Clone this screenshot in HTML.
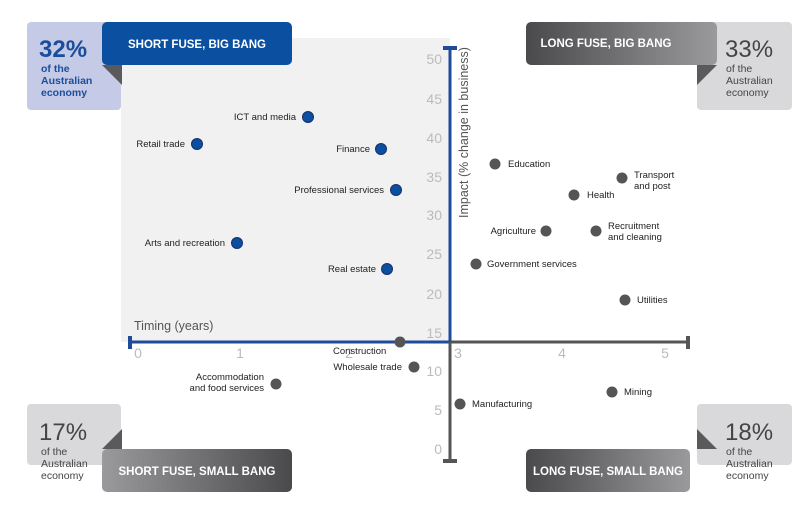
<!DOCTYPE html>
<html><head><style>
body{margin:0;background:#fff;}
svg{display:block;font-family:"Liberation Sans",Arial,sans-serif;}
</style></head><body>
<svg width="800" height="508" viewBox="0 0 800 508">
<defs>
<linearGradient id="gd" x1="0" x2="1"><stop offset="0" stop-color="#4a4a4c"/><stop offset="1" stop-color="#9a9a9c"/></linearGradient>
<linearGradient id="gd2" x1="0" x2="1"><stop offset="0" stop-color="#9a9a9c"/><stop offset="1" stop-color="#4a4a4c"/></linearGradient>
</defs>
<rect x="121" y="38" width="329" height="304" fill="#f1f1f1"/>
<rect x="27" y="22" width="94" height="88" rx="4" fill="#c5cae6"/>
<polygon points="102,65 122,65 122,85" fill="#5a5a5c"/>
<rect x="102" y="22" width="190" height="43" rx="5" fill="#0a4fa0"/>
<text x="197" y="48" font-size="11.5" font-weight="bold" fill="#fff" text-anchor="middle">SHORT FUSE, BIG BANG</text>
<text x="39" y="57" font-size="24" font-weight="bold" fill="#1a4e9c">32%</text>
<text x="41" y="72" font-size="10.5" font-weight="bold" fill="#1a4e9c">of the</text>
<text x="41" y="84" font-size="10.5" font-weight="bold" fill="#1a4e9c">Australian</text>
<text x="41" y="96" font-size="10.5" font-weight="bold" fill="#1a4e9c">economy</text>
<rect x="697" y="22" width="95" height="88" rx="4" fill="#d9d9db"/>
<polygon points="697,65 717,65 697,85" fill="#5a5a5c"/>
<rect x="526" y="22" width="191" height="43" rx="5" fill="url(#gd)"/>
<text x="606" y="47" font-size="11.5" font-weight="bold" fill="#fff" text-anchor="middle">LONG FUSE, BIG BANG</text>
<text x="725" y="57" font-size="24" fill="#444">33%</text>
<text x="726" y="72" font-size="10.5" fill="#444">of the</text>
<text x="726" y="84" font-size="10.5" fill="#444">Australian</text>
<text x="726" y="96" font-size="10.5" fill="#444">economy</text>
<rect x="27" y="404" width="94" height="61" rx="4" fill="#d9d9db"/>
<polygon points="102,449 122,429 122,449" fill="#5a5a5c"/>
<rect x="102" y="449" width="190" height="43" rx="5" fill="url(#gd2)"/>
<text x="197" y="475" font-size="11.5" font-weight="bold" fill="#fff" text-anchor="middle">SHORT FUSE, SMALL BANG</text>
<text x="39" y="440" font-size="24" fill="#444">17%</text>
<text x="41" y="455" font-size="10.5" fill="#444">of the</text>
<text x="41" y="467" font-size="10.5" fill="#444">Australian</text>
<text x="41" y="479" font-size="10.5" fill="#444">economy</text>
<rect x="697" y="404" width="95" height="61" rx="4" fill="#d9d9db"/>
<polygon points="697,429 717,449 697,449" fill="#5a5a5c"/>
<rect x="526" y="449" width="164" height="43" rx="5" fill="url(#gd)"/>
<text x="608" y="475" font-size="11.5" font-weight="bold" fill="#fff" text-anchor="middle">LONG FUSE, SMALL BANG</text>
<text x="725" y="440" font-size="24" fill="#444">18%</text>
<text x="726" y="455" font-size="10.5" fill="#444">of the</text>
<text x="726" y="467" font-size="10.5" fill="#444">Australian</text>
<text x="726" y="479" font-size="10.5" fill="#444">economy</text>
<line x1="130" y1="342" x2="450" y2="342" stroke="#1f4c9a" stroke-width="3"/>
<line x1="450" y1="342" x2="688" y2="342" stroke="#555" stroke-width="3"/>
<rect x="128" y="336" width="4" height="13" fill="#1f4c9a"/>
<rect x="686" y="336" width="4" height="13" fill="#555"/>
<line x1="450" y1="48" x2="450" y2="342" stroke="#1f4c9a" stroke-width="3"/>
<line x1="450" y1="342" x2="450" y2="461" stroke="#555" stroke-width="3"/>
<rect x="443" y="46" width="14" height="4" fill="#1f4c9a"/>
<rect x="443" y="459" width="14" height="4" fill="#555"/>
<g font-size="14" fill="#bbb" text-anchor="middle">
<text x="138" y="358">0</text><text x="240" y="358">1</text><text x="349" y="358">2</text><text x="458" y="358">3</text><text x="562" y="358">4</text><text x="665" y="358">5</text>
</g>
<g font-size="14" fill="#bbb" text-anchor="end">
<text x="442" y="64">50</text><text x="442" y="104">45</text><text x="442" y="143">40</text><text x="442" y="182">35</text><text x="442" y="220">30</text><text x="442" y="259">25</text><text x="442" y="299">20</text><text x="442" y="338">15</text><text x="442" y="376">10</text><text x="442" y="415">5</text><text x="442" y="454">0</text>
</g>
<text x="134" y="330" font-size="12.5" fill="#555">Timing (years)</text>
<text transform="translate(468,218) rotate(-90)" font-size="12.5" fill="#555">Impact (% change in business)</text>
<g fill="#0a4fa0" stroke="#1a2f6a" stroke-width="1">
<circle cx="308" cy="117" r="5.5"/><circle cx="197" cy="144" r="5.5"/><circle cx="381" cy="149" r="5.5"/><circle cx="396" cy="190" r="5.5"/><circle cx="237" cy="243" r="5.5"/><circle cx="387" cy="269" r="5.5"/>
</g>
<g fill="#555">
<circle cx="495" cy="164" r="5.5"/><circle cx="622" cy="178" r="5.5"/><circle cx="574" cy="195" r="5.5"/><circle cx="546" cy="231" r="5.5"/><circle cx="596" cy="231" r="5.5"/><circle cx="476" cy="264" r="5.5"/><circle cx="625" cy="300" r="5.5"/><circle cx="400" cy="342" r="5.5"/><circle cx="414" cy="367" r="5.5"/><circle cx="276" cy="384" r="5.5"/><circle cx="460" cy="404" r="5.5"/><circle cx="612" cy="392" r="5.5"/>
</g>
<g font-size="9.5" fill="#222">
<text x="296" y="120" text-anchor="end">ICT and media</text>
<text x="185" y="147" text-anchor="end">Retail trade</text>
<text x="370" y="152" text-anchor="end">Finance</text>
<text x="384" y="193" text-anchor="end">Professional services</text>
<text x="225" y="246" text-anchor="end">Arts and recreation</text>
<text x="376" y="272" text-anchor="end">Real estate</text>
<text x="508" y="167">Education</text>
<text x="634" y="178">Transport</text><text x="634" y="189">and post</text>
<text x="587" y="198">Health</text>
<text x="536" y="234" text-anchor="end">Agriculture</text>
<text x="608" y="229">Recruitment</text><text x="608" y="240">and cleaning</text>
<text x="487" y="267">Government services</text>
<text x="637" y="303">Utilities</text>
<text x="333" y="354">Construction</text>
<text x="402" y="370" text-anchor="end">Wholesale trade</text>
<text x="264" y="380" text-anchor="end">Accommodation</text><text x="264" y="391" text-anchor="end">and food services</text>
<text x="472" y="407">Manufacturing</text>
<text x="624" y="395">Mining</text>
</g>
</svg>
</body></html>
